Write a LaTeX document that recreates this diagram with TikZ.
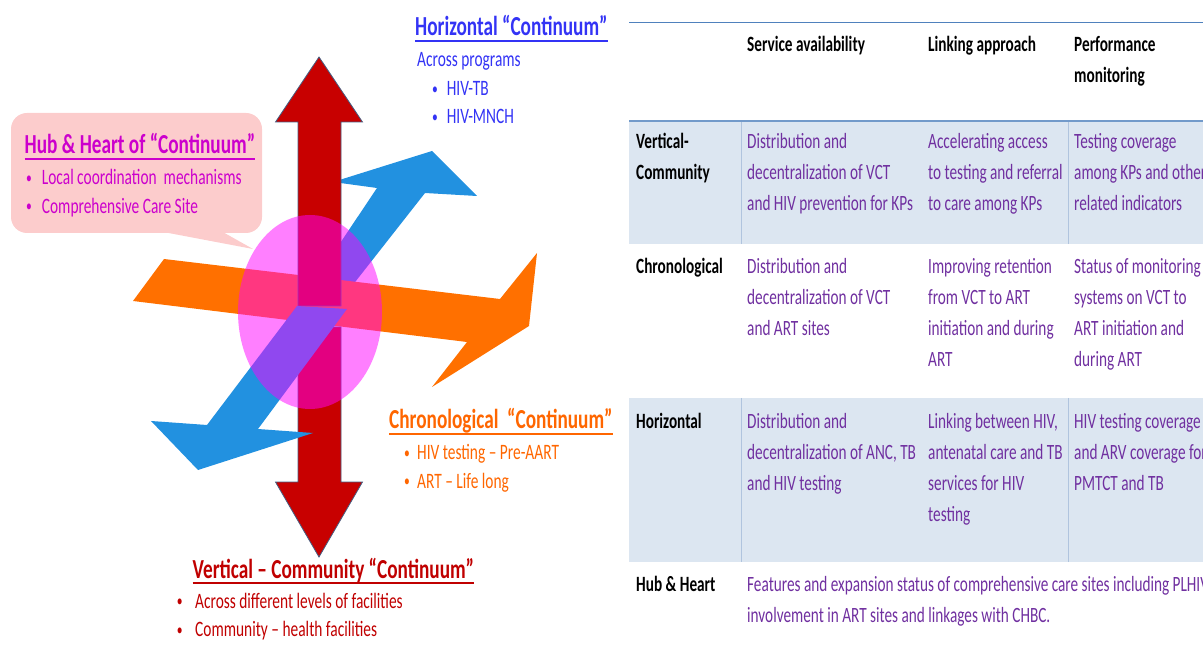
\documentclass[tikz,border=0pt]{standalone}
\usepackage{fontspec}
\setmainfont{Carlito}[FakeStretch=0.7]
\usetikzlibrary{positioning}

\definecolor{arrowred}{RGB}{200,0,0}
\definecolor{arroworange}{RGB}{255,112,0}
\definecolor{arrowblue}{RGB}{34,145,224}
\definecolor{arrowedge}{RGB}{68,94,130}
\definecolor{hubfill}{RGB}{255,0,255}
\definecolor{hubpink}{RGB}{252,204,204}
\definecolor{hubmagenta}{RGB}{204,0,204}
\definecolor{horizblue}{RGB}{51,51,245}
\definecolor{chronorange}{RGB}{255,102,0}
\definecolor{vertred}{RGB}{192,0,0}
\definecolor{cellpurple}{RGB}{112,48,160}
\definecolor{rowshade}{RGB}{220,230,241}
\definecolor{ruleblue}{RGB}{79,129,189}
\definecolor{colrule}{RGB}{176,196,222}

\newcommand\titlefont{\fontsize{27.5}{32}\selectfont\bfseries}
\newcommand\itemfont{\fontsize{22}{29}\selectfont}
\newcommand\cellfont{\fontsize{21.8}{31}\selectfont}
\newcommand\bul[1]{\makebox[#1][l]{\raisebox{1.5pt}{\scalebox{0.75}{\textbullet}}}}
\newcommand\lines[1]{\begin{tabular}[t]{@{}l@{}}#1\end{tabular}}

\begin{document}
\begin{tikzpicture}[x=1pt,y=-1pt,
  title/.style={anchor=base west, inner sep=0, font=\titlefont},
  item/.style={anchor=base west, inner sep=0, font=\itemfont},
  cell/.style={anchor=base west, inner sep=0, font=\cellfont},
  head/.style={cell, font=\cellfont\bfseries},
  body/.style={cell, text=cellpurple},
  redarrow/.style={fill=arrowred, draw=arrowedge, line width=0.8pt},
  bluearrow/.style={fill=arrowblue},
  uline/.style={line width=1.8pt}]

\useasboundingbox (0,0) rectangle (1203,652);

% speech bubble
\fill[hubpink, rounded corners=16pt] (11,113) rectangle (262,233);
\fill[hubpink] (158,231) -- (253,249) -- (221,231) -- cycle;

% the four arrows and the hub
\fill[bluearrow] (302,300) -- (377,188) -- (333,182) -- (432,151) -- (477,196) -- (425,193) -- (341,300) -- cycle;
\fill[arroworange] (164,259) -- (500,299) -- (537,253) -- (529,326) -- (432,387) -- (467,342) -- (133,301) -- cycle;
\draw[redarrow] (298,306) -- (298,122) -- (275.5,122) -- (319,57) -- (362.5,122) -- (341,122) -- (341,306) -- cycle;
\draw[redarrow] (298,327) -- (298,482) -- (275.5,482) -- (319,557) -- (362.5,482) -- (341,482) -- (341,327) -- cycle;
\fill[bluearrow] (297,306) -- (347,309) -- (258,429) -- (313,433) -- (198,470) -- (151,421) -- (207,425) -- cycle;
\fill[hubfill, opacity=0.5] (310,312) ellipse [x radius=72, y radius=97];

% labels
\node[title, text=horizblue] (horiz) at (415,36) {Horizontal “Continuum”};
\draw[horizblue, uline] ([yshift=-5pt]horiz.base west) -- ([yshift=-5pt]horiz.base east);
\node[item, text=horizblue] (across) at (417,66.7) {Across programs};
\node[item, text=horizblue] (hivtb) at (432,95.7) {\bul{14.6pt}HIV-TB};
\node[item, text=horizblue] (hivmnch) at (432,124) {\bul{14.6pt}HIV-MNCH};

\node[title, text=hubmagenta] (hub) at (24.5,154) {Hub \& Heart of “Continuum”};
\draw[hubmagenta, uline] ([yshift=-5.3pt]hub.base west) -- ([yshift=-5.3pt]hub.base east);
\node[item, text=hubmagenta] (local) at (26,185) {\bul{15.7pt}Local coordination\ \ mechanisms};
\node[item, text=hubmagenta] (site) at (26,213.3) {\bul{15.7pt}Comprehensive Care Site};

\node[title, text=chronorange] (chrono) at (389,428.3) {Chronological\ \ “Continuum”};
\draw[chronorange, uline] ([yshift=-6pt]chrono.base west) -- ([yshift=-6pt]chrono.base east);
\node[item, text=chronorange] (testing) at (404,460) {\bul{13pt}HIV testing -- Pre-AART};
\node[item, text=chronorange] (lifelong) at (404,488) {\bul{13pt}ART -- Life long};

\node[title, text=vertred] (vert) at (192.5,578.3) {Vertical -- Community “Continuum”};
\draw[vertred, uline] ([yshift=-5pt]vert.base west) -- ([yshift=-5pt]vert.base east);
\node[item, text=vertred] (levels) at (176.7,608.3) {\bul{18.3pt}Across different levels of facilities};
\node[item, text=vertred] (community) at (176.7,636.7) {\bul{18.3pt}Community -- health facilities};

% table
\begin{scope}
\clip (600,0) rectangle (1203,652);
\fill[rowshade] (629,121) rectangle (1203,244);
\fill[rowshade] (629,398) rectangle (1203,562);
\draw[ruleblue, line width=1pt] (629,22.5) -- (1203,22.5);
\draw[ruleblue!80, line width=2pt] (629,121) -- (1203,121);
\foreach \cx in {741.5,1068.5} {
  \draw[colrule, line width=0.8pt] (\cx,122) -- (\cx,244);
  \draw[colrule, line width=0.8pt] (\cx,398) -- (\cx,562);
}

\node[head] (svc) at (747,51.7) {Service availability};
\node[head] (link) at (928,51.7) {Linking approach};
\node[head] (perf) at (1074,51.7) {\lines{Performance\\monitoring}};

\node[head] (vc) at (636,148.7) {\lines{Vertical-\\Community}};
\node[body] (vcsvc) at (747,148.7) {\lines{Distribution and\\decentralization of VCT\\and HIV prevention for KPs}};
\node[body] (vclink) at (928,148.7) {\lines{Accelerating access\\to testing and referral\\to care among KPs}};
\node[body] (vcperf) at (1074,148.7) {\lines{Testing coverage\\among KPs and other\\related indicators}};

\node[head] (chr) at (636,273.3) {Chronological};
\node[body] (chrsvc) at (747,273.3) {\lines{Distribution and\\decentralization of VCT\\and ART sites}};
\node[body] (chrlink) at (928,273.3) {\lines{Improving retention\\from VCT to ART\\initiation and during\\ART}};
\node[body] (chrperf) at (1074,273.3) {\lines{Status of monitoring\\systems on VCT to\\ART initiation and\\during ART}};

\node[head] (hor) at (636,428.3) {Horizontal};
\node[body] (horsvc) at (747,428.3) {\lines{Distribution and\\decentralization of ANC, TB\\and HIV testing}};
\node[body] (horlink) at (928,428.3) {\lines{Linking between HIV,\\antenatal care and TB\\services for HIV\\testing}};
\node[body] (horperf) at (1074,428.3) {\lines{HIV testing coverage\\and ARV coverage for\\PMTCT and TB}};

\node[head] (hh) at (636,591.7) {Hub \& Heart};
\node[body] (hhsvc) at (747,591.7) {\lines{Features and expansion status of comprehensive care sites including PLHIV\\involvement in ART sites and linkages with CHBC.}};
\end{scope}
\end{tikzpicture}
\end{document}
